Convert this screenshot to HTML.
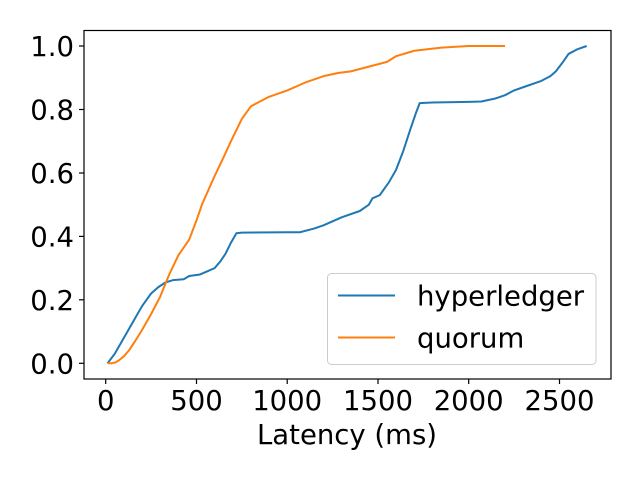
<!DOCTYPE html>
<html><head><style>
html,body{margin:0;padding:0;background:#fff;width:640px;height:480px;overflow:hidden}
text{font-family:"DejaVu Sans","Liberation Sans",sans-serif;font-size:27.5px;fill:#000}
</style></head><body>
<svg width="640" height="480" viewBox="0 0 640 480" xmlns="http://www.w3.org/2000/svg">
<rect x="0" y="0" width="640" height="480" fill="#fff"/>
<g transform="translate(105.7,363.3) scale(0.1815,-317.3)" fill="none" stroke-width="2" stroke-linejoin="round">
<polyline vector-effect="non-scaling-stroke" stroke="#1f77b4" points="10,0 50,0.03 100,0.08 150,0.13 200,0.18 250,0.22 290,0.24 330,0.255 370,0.262 430,0.265 460,0.275 520,0.28 560,0.29 600,0.3 630,0.32 660,0.345 690,0.38 720,0.41 750,0.412 1000,0.413 1070,0.413 1150,0.425 1200,0.435 1300,0.46 1400,0.48 1450,0.5 1470,0.52 1510,0.53 1560,0.57 1600,0.61 1640,0.67 1680,0.74 1710,0.79 1730,0.82 1800,0.822 2000,0.824 2070,0.825 2150,0.835 2200,0.845 2250,0.86 2300,0.87 2400,0.89 2450,0.905 2480,0.92 2520,0.95 2550,0.975 2600,0.99 2650,1"/>
<polyline vector-effect="non-scaling-stroke" stroke="#ff7f0e" points="10,0 30,0 50,0.002 70,0.008 100,0.022 130,0.042 160,0.068 200,0.105 250,0.155 300,0.21 350,0.28 400,0.34 460,0.39 500,0.45 530,0.5 600,0.59 650,0.65 690,0.7 750,0.77 800,0.81 900,0.84 1000,0.86 1100,0.885 1200,0.905 1280,0.915 1350,0.92 1450,0.935 1550,0.95 1600,0.968 1700,0.985 1850,0.995 2000,1 2200,1"/>
</g>
<rect x="84" y="30.5" width="527" height="348.5" fill="none" stroke="#000" stroke-width="1.2"/>
<g stroke="#000" stroke-width="1.2">
<line x1="105.7" y1="379" x2="105.7" y2="384"/><line x1="196.5" y1="379" x2="196.5" y2="384"/><line x1="287.2" y1="379" x2="287.2" y2="384"/><line x1="378" y1="379" x2="378" y2="384"/><line x1="468.7" y1="379" x2="468.7" y2="384"/><line x1="559.5" y1="379" x2="559.5" y2="384"/>
<line x1="79" y1="46" x2="84" y2="46"/><line x1="79" y1="109.5" x2="84" y2="109.5"/><line x1="79" y1="173" x2="84" y2="173"/><line x1="79" y1="236.4" x2="84" y2="236.4"/><line x1="79" y1="299.8" x2="84" y2="299.8"/><line x1="79" y1="363.3" x2="84" y2="363.3"/>
</g>
<g text-anchor="middle">
<text x="105.7" y="410">0</text><text x="196.5" y="410">500</text><text x="287.2" y="410">1000</text><text x="378" y="410">1500</text><text x="468.7" y="410">2000</text><text x="559.5" y="410">2500</text>
<text x="347" y="444">Latency (ms)</text>
</g>
<g text-anchor="end">
<text x="74" y="56">1.0</text><text x="74" y="119.5">0.8</text><text x="74" y="183">0.6</text><text x="74" y="246.4">0.4</text><text x="74" y="309.8">0.2</text><text x="74" y="373.3">0.0</text>
</g>
<rect x="327.5" y="273.5" width="268.5" height="91" rx="4" fill="#fff" fill-opacity="0.8" stroke="#ccc" stroke-width="1"/>
<line x1="338" y1="295.5" x2="395" y2="295.5" stroke="#1f77b4" stroke-width="2"/>
<line x1="338" y1="337.5" x2="395" y2="337.5" stroke="#ff7f0e" stroke-width="2"/>
<text x="417" y="305.5">hyperledger</text>
<text x="417" y="347.5">quorum</text>
</svg>
</body></html>
